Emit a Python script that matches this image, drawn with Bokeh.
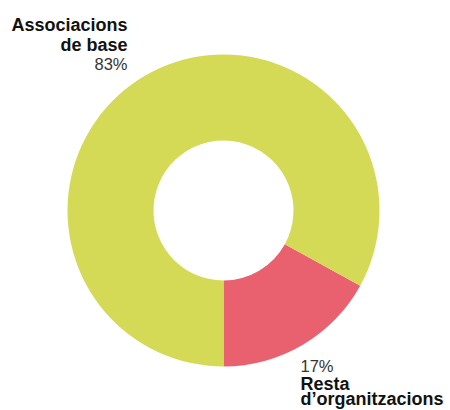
from bokeh.plotting import figure
from bokeh.models import ColumnDataSource
from bokeh.core.properties import value
from bokeh.embed import file_html
from bokeh.resources import INLINE
import math

categories = ["Resta d\u2019organitzacions", "Associacions de base"]
shares = [17, 83]
colors = ["#E9606E", "#D4DA55"]

W, H = 450, 410
p = figure(width=W, height=H, output_backend="svg", toolbar_location=None,
           x_range=(0, W), y_range=(-H, 0), min_border=0)
p.axis.visible = False
p.grid.visible = False
p.outline_line_color = None
p.background_fill_color = "white"

# angles from data
total = sum(shares)
start0 = -math.pi / 2
starts, ends = [], []
a = start0
for s in shares:
    starts.append(a)
    a += 2 * math.pi * s / total
    ends.append(a)

src = ColumnDataSource(dict(cat=categories, share=shares, color=colors,
                            start=starts, end=ends))
cx, cy = 223, -210
p.annular_wedge(x=cx, y=cy, inner_radius=70, outer_radius=156,
                start_angle="start", end_angle="end", color="color",
                line_color=None, source=src)

OFF = 7  # renderer baseline offset correction

def sy(y):
    return -(y - OFF)

def sx(x):
    return x

font = value("Liberation Sans")
# top label (Associacions de base)
p.text(x=[sx(127), sx(127)], y=[sy(31), sy(51)], text=["Associacions", "de base"],
       text_font=font, text_font_size="18px", text_font_style="bold",
       text_align="right", text_baseline="alphabetic", text_color="#111111")
p.text(x=[sx(127)], y=[sy(70)], text=[f"{shares[1]}%"],
       text_font=font, text_font_size="16.5px", text_align="right",
       text_baseline="alphabetic", text_color="#333333")
# bottom label (Resta d'organitzacions)
p.text(x=[sx(300)], y=[sy(372)], text=[f"{shares[0]}%"],
       text_font=font, text_font_size="16.5px", text_align="left",
       text_baseline="alphabetic", text_color="#333333")
p.text(x=[sx(300), sx(300)], y=[sy(390), sy(405)], text=["Resta", "d\u2019organitzacions"],
       text_font=font, text_font_size="18px", text_font_style="bold",
       text_align="left", text_baseline="alphabetic", text_color="#111111")

open("out.html", "w").write(file_html(p, INLINE))
